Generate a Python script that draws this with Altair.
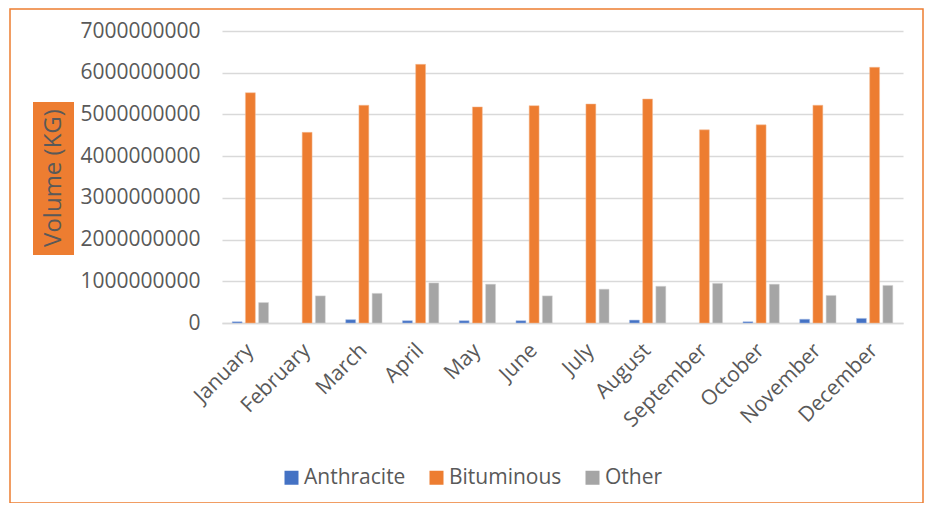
import altair as alt
import pandas as pd

months = ["January", "February", "March", "April", "May", "June", "July",
          "August", "September", "October", "November", "December"]
series = ["Anthracite", "Bituminous", "Other"]
anthracite = [0.03e9, 0, 0.08e9, 0.055e9, 0.055e9, 0.055e9, 0, 0.07e9, 0, 0.03e9, 0.09e9, 0.11e9]
bituminous = [5.52e9, 4.57e9, 5.22e9, 6.20e9, 5.18e9, 5.21e9, 5.25e9, 5.37e9, 4.63e9, 4.75e9, 5.22e9, 6.13e9]
other = [0.49e9, 0.65e9, 0.71e9, 0.96e9, 0.93e9, 0.65e9, 0.81e9, 0.88e9, 0.95e9, 0.93e9, 0.66e9, 0.90e9]
y_ticks = [0, 1e9, 2e9, 3e9, 4e9, 5e9, 6e9, 7e9]
colors = ["#4472C4", "#ED7D31", "#A5A5A5"]
y_title = "Volume (KG)"

rows = []
for s, vals in zip(series, [anthracite, bituminous, other]):
    for m, v in zip(months, vals):
        rows.append({"Month": m, "Type": s, "Value": v})
df = pd.DataFrame(rows)

FONT = "Open Sans"
TXT = "#595959"
W, H = 681, 292

bars = alt.Chart(df).transform_filter("datum.Value > 0").mark_bar(
    strokeWidth=1, strokeOpacity=0.5).encode(
    x=alt.X("Month:N", sort=months,
            scale=alt.Scale(domain=months, paddingInner=0.36, paddingOuter=0.18),
            axis=alt.Axis(title=None, labelAngle=-45, labelAlign="right",
                          labelBaseline="middle", labelFontSize=21, labelFont=FONT,
                          labelColor=TXT, ticks=False, domain=True, domainColor="#D9D9D9",
                          domainWidth=1.5, labelPadding=24, grid=False)),
    xOffset=alt.XOffset("Type:N", sort=series,
                        scale=alt.Scale(domain=series, paddingInner=0.25)),
    y=alt.Y("Value:Q", scale=alt.Scale(domain=[0, 7e9], nice=False),
            axis=alt.Axis(title=None, values=y_ticks, format="d", labelFontSize=21,
                          labelFont=FONT, labelColor=TXT, ticks=False, domain=False,
                          gridColor="#D9D9D9", gridWidth=1.5, labelPadding=22)),
    color=alt.Color("Type:N", sort=series,
                    scale=alt.Scale(domain=series, range=colors),
                    legend=alt.Legend(title=None, orient="none", direction="horizontal",
                                      legendX=59, legendY=436, symbolType="square",
                                      symbolSize=196, symbolStrokeWidth=0,
                                      labelFontSize=21, labelFont=FONT, labelColor=TXT,
                                      columnPadding=20, labelOffset=2, padding=0)),
    stroke=alt.Color("Type:N", sort=series,
                     scale=alt.Scale(domain=series, range=["#A9C0E8", "#F6BE98", "#D4D4D4"]),
                     legend=None),
)

tdf = pd.DataFrame({"t": [y_title]})
title_box = alt.Chart(tdf).mark_rect(color="#ED7D31").encode(
    x=alt.value(-189), x2=alt.value(-148), y=alt.value(71), y2=alt.value(224))
title_text = alt.Chart(tdf).mark_text(angle=270, fontSize=24, font=FONT, color=TXT,
                                      align="center", baseline="middle").encode(
    x=alt.value(-168), y=alt.value(147), text="t:N")
border = alt.Chart(tdf).mark_rect(fill=None, stroke="#ED7D31", strokeWidth=1.5).encode(
    x=alt.value(-212), x2=alt.value(701), y=alt.value(-22), y2=alt.value(472))

chart = alt.layer(border, title_box, title_text, bars).properties(
    width=W, height=H,
    padding={"left": 214, "top": 23, "right": 22, "bottom": 180},
    autosize=alt.AutoSizeParams(type="none"),
    background="white",
).configure_view(stroke=None)

chart.save("out.html", embed_options={"renderer": "svg", "actions": False})
